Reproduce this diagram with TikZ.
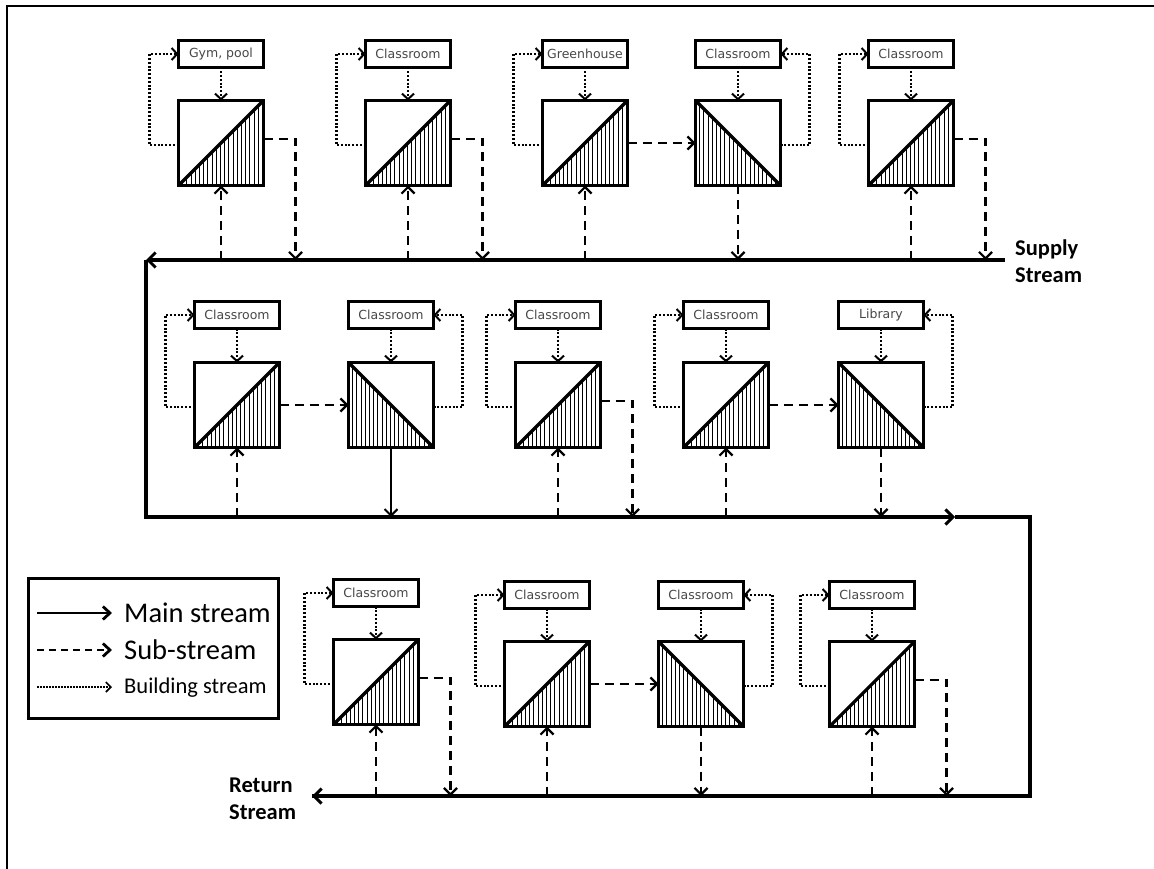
\documentclass[tikz,border=0pt]{standalone}
\usepackage{fontspec}
\setmainfont{Carlito}
\newfontfamily\labelfont{DejaVu Sans}
\usetikzlibrary{arrows.meta}

\tikzset{
  lbl/.style={draw, line width=3.2pt, minimum width=85pt, minimum height=27pt,
    inner sep=0pt, outer sep=0pt, text=black!72,
    font=\labelfont\fontsize{12.5}{14}\selectfont},
  hx/.style={draw, line width=3.4pt, minimum width=85pt, minimum height=85pt,
    inner sep=0pt, outer sep=0pt},
  diag/.style={line width=3.2pt, line cap=round},
  hatch/.style={line width=1.1pt},
  mainln/.style={line width=3.2pt, -{Straight Barb[length=7.5pt,width=15pt,line width=3pt]}},
  subln/.style={line width=2.5pt, dash pattern=on 9pt off 6pt,
    -{Straight Barb[length=6.5pt,width=13pt,line width=2.2pt]}},
  bldln/.style={line width=2.3pt, dash pattern=on 2pt off 1.8pt,
    -{Straight Barb[length=5.5pt,width=12pt,line width=2pt]}},
  thinln/.style={line width=1.8pt, -{Straight Barb[length=6.5pt,width=13pt,line width=2pt]}},
  streamtxt/.style={font=\bfseries\fontsize{22.5}{27}\selectfont, align=left, inner sep=0pt},
  legtxt/.style={anchor=west, inner sep=0pt},
}

% heat-exchanger unit: label box above a square
\newcommand\hxunit[5]{%
  \node[lbl] (#1l) at (#2+44,#3+15) {#5};
  \node[hx] (#1) at (#2+44,#4+44) {};
  \draw[bldln] (#1l.south) -- (#1.north);
}
% diagonal rising to the right, hatched below
\newcommand\hxrise[1]{%
  \begin{scope}
    \clip (#1.south west) -- (#1.south east) -- (#1.north east) -- cycle;
    \foreach \k in {0,4.2,...,86} \draw[hatch] ([xshift=\k pt]#1.south west) -- ([xshift=\k pt]#1.north west);
  \end{scope}
  \draw[diag] (#1.south west) -- (#1.north east);
}
% diagonal falling to the right, hatched below
\newcommand\hxfall[1]{%
  \begin{scope}
    \clip (#1.north west) -- (#1.south west) -- (#1.south east) -- cycle;
    \foreach \k in {0,4.2,...,86} \draw[hatch] ([xshift=\k pt]#1.south west) -- ([xshift=\k pt]#1.north west);
  \end{scope}
  \draw[diag] (#1.north west) -- (#1.south east);
}
% building loops
\newcommand\loopL[1]{\draw[bldln] ([yshift=-2pt]#1.west) -- ++(-29,0) |- (#1l.west);}
\newcommand\loopR[1]{\draw[bldln] ([yshift=-2pt]#1.east) -- ++(29,0) |- (#1l.east);}
% sub-streams
\newcommand\subin[2]{\draw[subln] (#1.south |- #2) -- (#1.south);}
\newcommand\subout[2]{\draw[subln] ([yshift=4pt]#1.east) -- ++(32,0) coordinate (#1o) -- (#1o |- #2);}
\newcommand\subdown[2]{\draw[subln] (#1.south) -- (#1.south |- #2);}
\newcommand\subnext[2]{\draw[subln] (#1.east) -- (#2.west);}

\begin{document}
\begin{tikzpicture}[x=1pt,y=-1pt]
\useasboundingbox (0,0) rectangle (1154,869);
\fill[white] (0,0) rectangle (1154,869);

% frame
\draw[line width=2.4pt] (7,869) -- (7,6) -- (1154,6);

% main stream
\coordinate (sA) at (1005,260);
\coordinate (sB) at (146,260);
\coordinate (sC) at (146,517);
\coordinate (sD) at (955,517);
\coordinate (sE) at (1030,517);
\coordinate (sF) at (1030,796);
\coordinate (sG) at (312,796);
\draw[mainln] (sA) -- (sB);
\draw[mainln] (sB) -- (sC) -- (sD);
\draw[line width=3.2pt, line join=miter] (sD) -- (sE) -- (sF) -- (sG);
\draw[mainln] (sF) -- (sG);

\node[streamtxt, anchor=west] (supply) at (1015,261.5) {Supply\\Stream};
\node[streamtxt, anchor=west] (return) at (229,798.5) {Return\\Stream};

% first row
\hxunit{a1}{177}{39}{99}{Gym, pool}
\hxunit{a2}{364}{39}{99}{Classroom}
\hxunit{a3}{541}{39}{99}{Greenhouse}
\hxunit{a4}{694}{39}{99}{Classroom}
\hxunit{a5}{867}{39}{99}{Classroom}
\hxrise{a1}\hxrise{a2}\hxrise{a3}\hxfall{a4}\hxrise{a5}
\loopL{a1}\loopL{a2}\loopL{a3}\loopR{a4}\loopL{a5}
\subin{a1}{sA}\subout{a1}{sA}
\subin{a2}{sA}\subout{a2}{sA}
\subin{a3}{sA}\subnext{a3}{a4}
\subdown{a4}{sA}
\subin{a5}{sA}\subout{a5}{sA}

% second row
\hxunit{b1}{193}{300}{361}{Classroom}
\hxunit{b2}{347}{300}{361}{Classroom}
\hxunit{b3}{514}{300}{361}{Classroom}
\hxunit{b4}{682}{300}{361}{Classroom}
\hxunit{b5}{837}{300}{361}{Library}
\hxrise{b1}\hxfall{b2}\hxrise{b3}\hxrise{b4}\hxfall{b5}
\loopL{b1}\loopR{b2}\loopL{b3}\loopL{b4}\loopR{b5}
\subin{b1}{sC}\subnext{b1}{b2}
\draw[thinln] (b2.south) -- (b2.south |- sC);
\subin{b3}{sC}\subout{b3}{sC}
\subin{b4}{sC}\subnext{b4}{b5}
\subdown{b5}{sC}

% third row
\hxunit{c1}{332}{578}{638}{Classroom}
\hxunit{c2}{503}{580}{640}{Classroom}
\hxunit{c3}{657}{580}{640}{Classroom}
\hxunit{c4}{828}{580}{640}{Classroom}
\hxrise{c1}\hxrise{c2}\hxfall{c3}\hxrise{c4}
\loopL{c1}\loopL{c2}\loopR{c3}\loopL{c4}
\subin{c1}{sF}\subout{c1}{sF}
\subin{c2}{sF}\subnext{c2}{c3}
\subdown{c3}{sF}
\subin{c4}{sF}\subout{c4}{sF}

% legend
\node[draw, line width=3pt, minimum width=250pt, minimum height=140pt, inner sep=0pt] (legend) at (153,648) {};
\coordinate (lm1) at (37,613); \coordinate (lm2) at (112,613);
\coordinate (ls1) at (37,650); \coordinate (ls2) at (112,650);
\coordinate (lb1) at (37,687); \coordinate (lb2) at (112,687);
\draw[line width=2.4pt, -{Straight Barb[length=7pt,width=13pt,line width=2.8pt]}] (lm1) -- (lm2);
\draw[line width=2.4pt, dash pattern=on 7pt off 5pt, -{Straight Barb[length=7pt,width=13pt,line width=2.8pt]}] (ls1) -- (ls2);
\draw[line width=1.6pt, dash pattern=on 1.5pt off 1.5pt, -{Straight Barb[length=5pt,width=10pt,line width=1.6pt]}] (lb1) -- (lb2);
\node[legtxt, font=\fontsize{28.5}{30}\selectfont] (tmain) at (124,613) {Main stream};
\node[legtxt, font=\fontsize{28.5}{30}\selectfont] (tsub) at (124,650) {Sub-stream};
\node[legtxt, font=\fontsize{22.5}{24}\selectfont] (tbld) at (124,688) {Building stream};
\end{tikzpicture}
\end{document}
